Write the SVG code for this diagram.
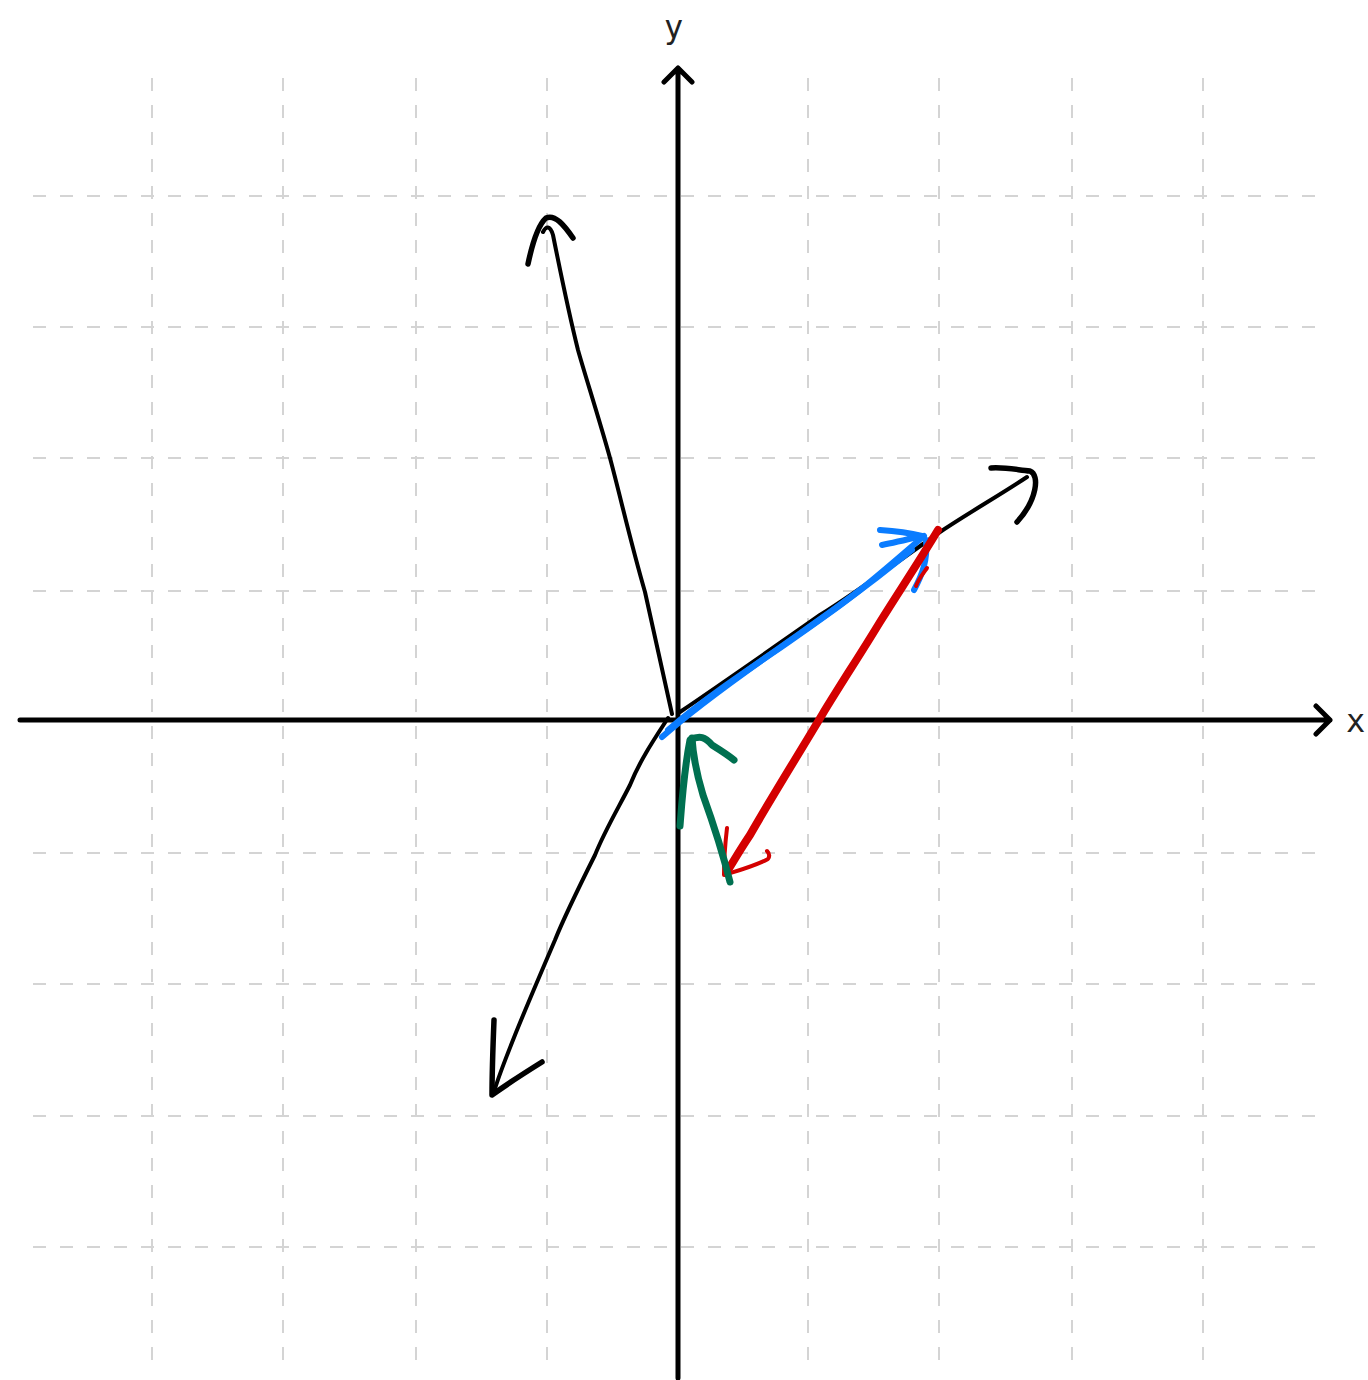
<svg xmlns="http://www.w3.org/2000/svg" width="1368" height="1380" viewBox="0 0 1368 1380">
<style>
.grid{stroke:#d4d4d4;stroke-width:2;stroke-dasharray:13 14;fill:none}
.axis{stroke:#000;stroke-width:5;fill:none;stroke-linecap:round;stroke-linejoin:round}
.ink{stroke:#000;stroke-width:4;fill:none;stroke-linecap:round;stroke-linejoin:round}
.inkb{stroke:#000;stroke-width:5.5;fill:none;stroke-linecap:round;stroke-linejoin:round}
.blue{stroke:#0a7cff;stroke-width:6;fill:none;stroke-linecap:round;stroke-linejoin:round}
.red{stroke:#d40000;stroke-width:8;fill:none;stroke-linecap:round;stroke-linejoin:round}
.redt{stroke:#d40000;stroke-width:4;fill:none;stroke-linecap:round;stroke-linejoin:round}
.green{stroke:#007050;stroke-width:7;fill:none;stroke-linecap:round;stroke-linejoin:round}
.lbl{font-family:"DejaVu Sans Mono","Liberation Mono",monospace;font-size:32px;fill:#222}
</style>
<rect width="1368" height="1380" fill="#fff"/>
<g id="grid">
<path class="grid" d="M152 78V1365M283 78V1365M416 78V1365M547 78V1365M808 78V1365M939 78V1365M1072 78V1365M1203 78V1365"/>
<path class="grid" d="M33 196H1320M33 327H1320M33 458H1320M33 591H1320M33 853H1320M33 984H1320M33 1116H1320M33 1247H1320"/>
</g>
<g id="axes">
<path class="axis" d="M20 720H1330M1316 706L1330 720L1316 734"/>
<path class="axis" d="M678 1378V68M664 82L678 68L692 82"/>
<text class="lbl" x="664" y="38">y</text>
<text class="lbl" x="1346" y="732" font-size="30">x</text>
</g>
<g id="connectors">
<g id="vec-up-left">
<path class="ink" d="M672 714C668 695 660 660 645 592C630 540 620 495 610 458C598 415 585 375 578 350C568 310 562 280 553 235C550 225 546 226 543 232"/>
<path class="inkb" d="M528 264C532 245 537 226 546 218C555 214 564 225 573 238"/>
</g>
<g id="vec-down-left">
<path class="ink" d="M668 718C655 738 640 760 630 785C620 805 605 830 595 855C580 885 565 915 555 940C540 975 525 1010 515 1035C505 1060 498 1078 494 1092"/>
<path class="inkb" d="M494 1020C493 1045 492 1070 492 1095C510 1082 526 1072 542 1062"/>
</g>
<g id="vec-up-right">
<path class="ink" d="M680 712C720 685 770 650 820 615C860 590 900 560 940 532C970 512 1000 495 1027 477"/>
<path class="inkb" d="M991 468C1005 467 1018 470 1030 471C1040 475 1037 500 1017 522"/>
</g>
<g id="vec-blue">
<path class="blue" d="M662 737C690 712 720 690 765 658C800 633 830 613 860 590C885 570 905 552 924 536"/>
<path class="blue" stroke-width="4" d="M668 730C700 702 740 675 780 648C820 620 860 592 912 550"/>
<path class="blue" d="M880 530C895 531 910 533 922 536C905 540 892 543 882 545"/>
<path class="blue" d="M926 540C928 560 922 575 914 590"/>
</g>
<g id="vec-red">
<path class="red" d="M938 530C920 560 900 590 880 622C860 655 840 685 822 715C795 760 770 800 750 835C740 850 733 862 728 870"/>
<path class="redt" d="M927 568C922 575 918 580 916 586"/>
<path class="redt" d="M727 828C725 845 724 860 724 875C740 870 755 866 768 859C770 856 769 853 767 851"/>
</g>
<g id="vec-green">
<path class="green" d="M730 882C722 850 712 820 703 795C697 775 693 755 692 738"/>
<path class="green" d="M680 826C682 800 684 770 690 740C700 735 705 737 712 745C720 750 728 755 734 760"/>
</g>
</g>
</svg>
